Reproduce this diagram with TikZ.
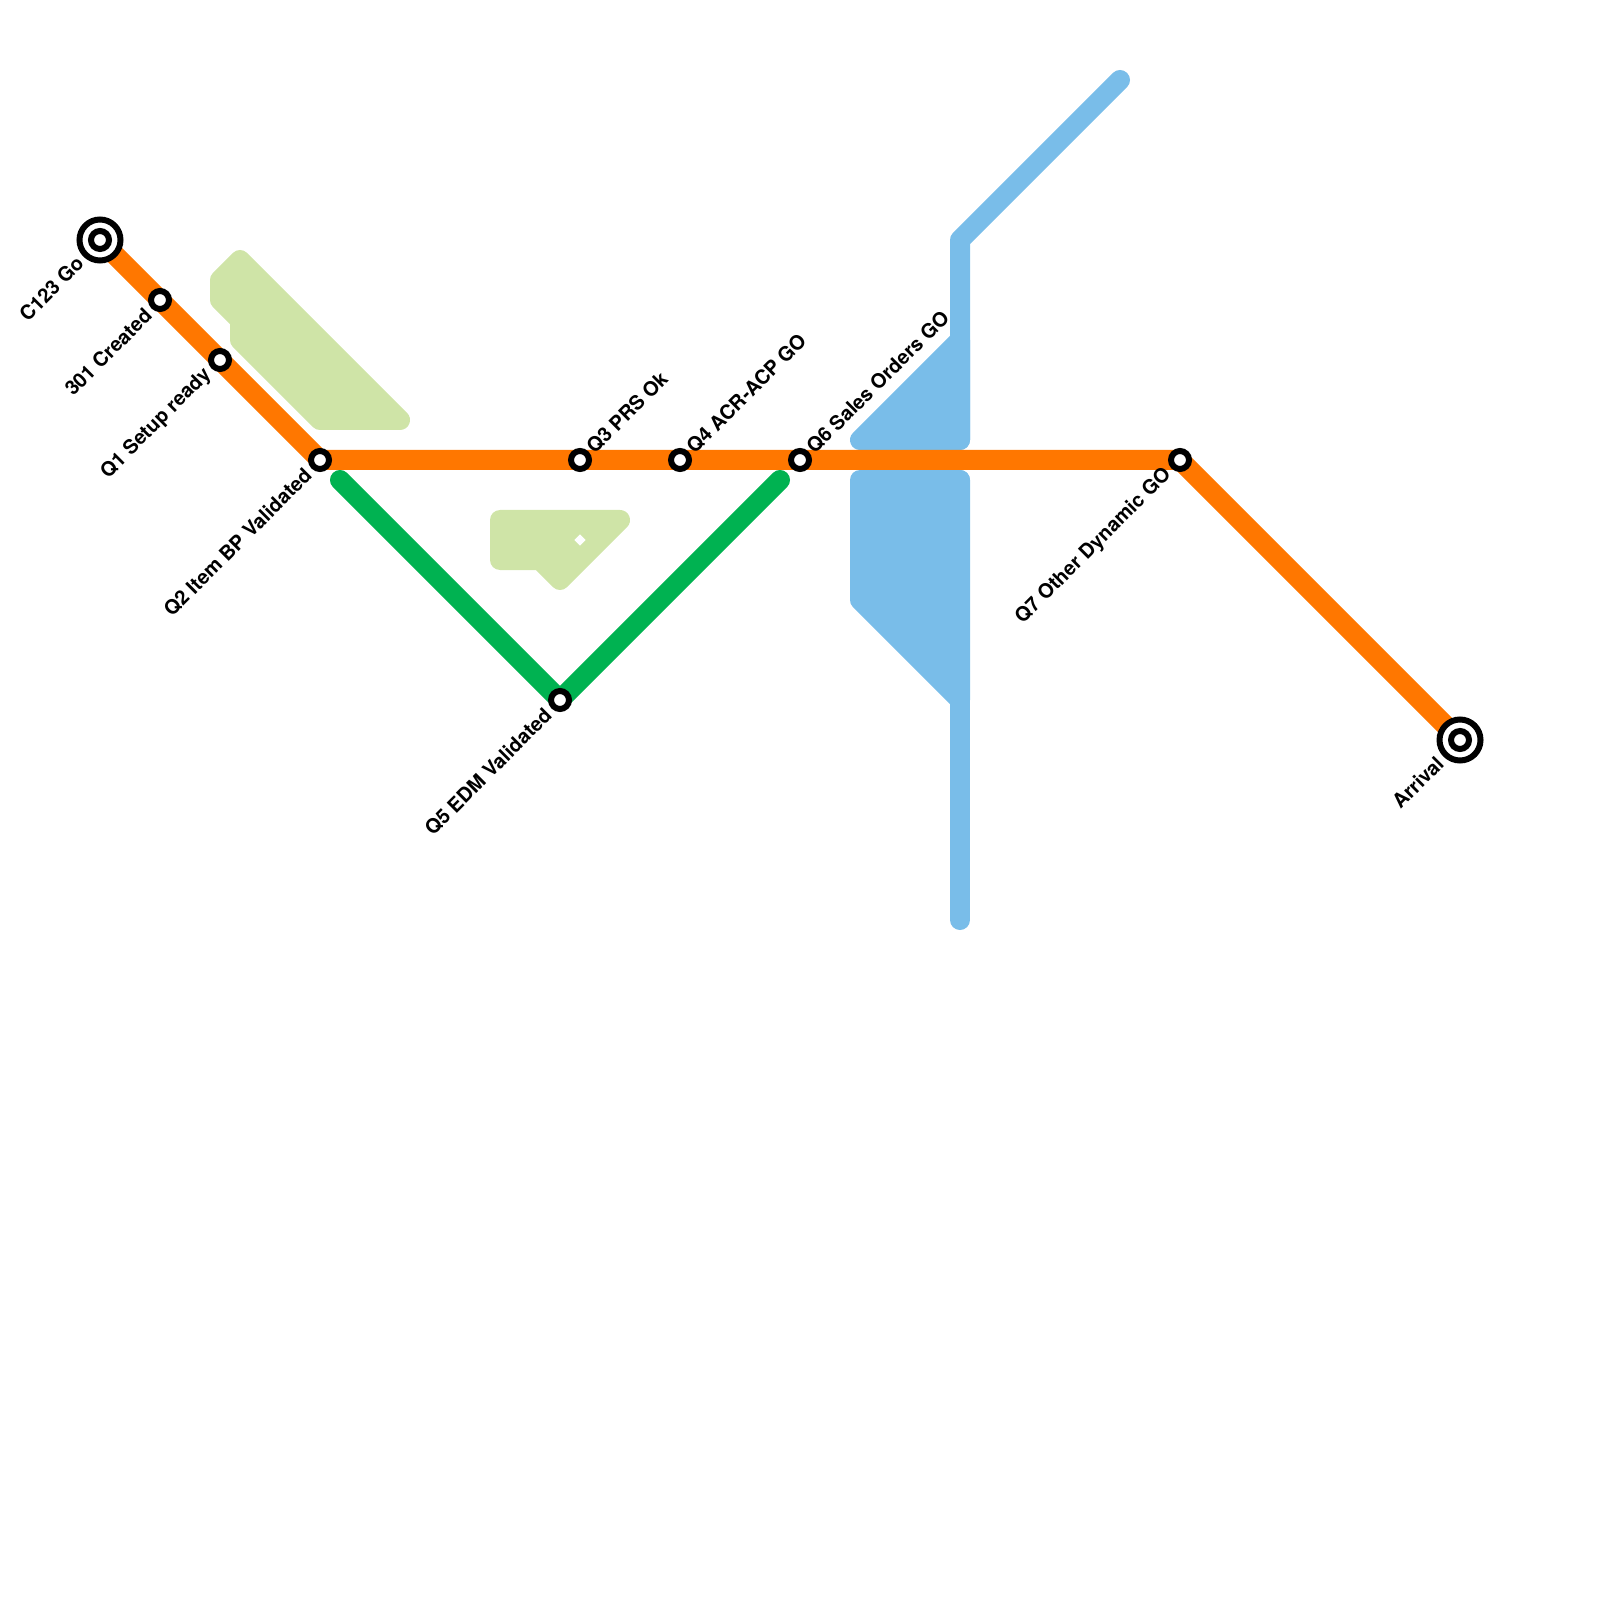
\documentclass[tikz,border=0pt]{standalone}
\usepackage{fontspec}
\setmainfont{TeX Gyre Heros}
\usetikzlibrary{backgrounds}
\definecolor{lineorange}{HTML}{FF7700}
\definecolor{linegreen}{HTML}{00B251}
\definecolor{lineblue}{HTML}{79BDE9}
\definecolor{palegreen}{HTML}{CFE4A7}
\tikzset{
    metroline/.style = {line width = 2mm, line cap = round, line join = round},
    blockshape/.style = {line width = 2mm, line join = round},
    station/.style = {circle, draw = black, fill = white, line width = 0.6mm, inner sep = 0pt, minimum size = 1.8mm},
    terminal/.style = {circle, draw = black, fill = white, line width = 0.6mm, inner sep = 0pt, minimum size = 4.1mm},
    stationlabel/.style = {rotate = 45, inner sep = 0pt, font = \fontsize{5.67pt}{7pt}\selectfont\bfseries}
}
\begin{document}
\begin{tikzpicture}[y = -1cm]
        \useasboundingbox (0, 0) rectangle (16, 16);
        % stations
        \node[terminal] (c123ring) at (1, 2.4) {};
        \node[terminal] (arrivalring) at (14.6, 7.4) {};
        \foreach \st/\x/\y in {c123/1/2.4, created/1.6/3, setup/2.2/3.6, item/3.2/4.6, prs/5.8/4.6, acr/6.8/4.6, edm/5.6/7, sales/8/4.6, dynamic/11.8/4.6, arrival/14.6/7.4}{
            \node[station] (\st) at (\x, \y) {};
        }
        % labels below the line
        \foreach \st/\txt in {c123ring/C123 Go, created/301 Created, setup/Q1 Setup ready, item/Q2 Item BP Validated, edm/Q5 EDM Validated, dynamic/Q7 Other Dynamic GO, arrivalring/Arrival}{
            \node[stationlabel, anchor = east] (\st label) at ([shift = {(-0.03, 0.03)}] \st.south west) {\txt};
        }
        % labels above the line
        \foreach \st/\txt in {prs/Q3 PRS Ok, acr/Q4 ACR-ACP GO, sales/Q6 Sales Orders GO}{
            \node[stationlabel, anchor = west] (\st label) at ([shift = {(0.01, -0.01)}] \st.north east) {\txt};
        }
        \coordinate (greenstart) at (3.4, 4.8);
        \coordinate (greenend) at (7.8, 4.8);
        \coordinate (blueend) at (9.6, 9.2);
        \coordinate (bluelower) at (9.6, 4.8);
        \coordinate (blueupper) at (9.6, 4.4);
        \coordinate (bluebend) at (9.6, 2.4);
        \coordinate (bluetop) at (11.2, 0.8);
        \begin{scope}[on background layer]
            \filldraw[blockshape, draw = palegreen, fill = palegreen] (2.4, 2.6) -- (4, 4.2) -- (3.2, 4.2) -- (2.4, 3.4) -- (2.4, 3.2) -- (2.2, 3) -- (2.2, 2.8) -- cycle;
            \filldraw[blockshape, draw = palegreen, fill = palegreen] (5, 5.2) -- (6.2, 5.2) -- (5.6, 5.8) -- (5.4, 5.6) -- (5, 5.6) -- cycle;
            \fill[white] (5.8, 5.343) -- (5.857, 5.4) -- (5.8, 5.457) -- (5.743, 5.4) -- cycle;
            \filldraw[blockshape, draw = lineblue, fill = lineblue] (8.6, 4.4) -- (9.6, 3.4) -- (9.6, 4.4) -- cycle;
            \filldraw[blockshape, draw = lineblue, fill = lineblue] (8.6, 4.8) -- (9.6, 4.8) -- (9.6, 7) -- (8.6, 6) -- cycle;
            \draw[metroline, lineblue] (blueend) -- (bluelower);
            \draw[metroline, lineblue] (blueupper) -- (bluebend) -- (bluetop);
            \draw[metroline, linegreen] (greenstart) -- (edm.center) -- (greenend);
            \draw[metroline, lineorange] (c123.center) -- (created.center) -- (setup.center) -- (item.center) -- (prs.center) -- (acr.center) -- (sales.center) -- (dynamic.center) -- (arrival.center);
        \end{scope}
    \end{tikzpicture}
\end{document}
